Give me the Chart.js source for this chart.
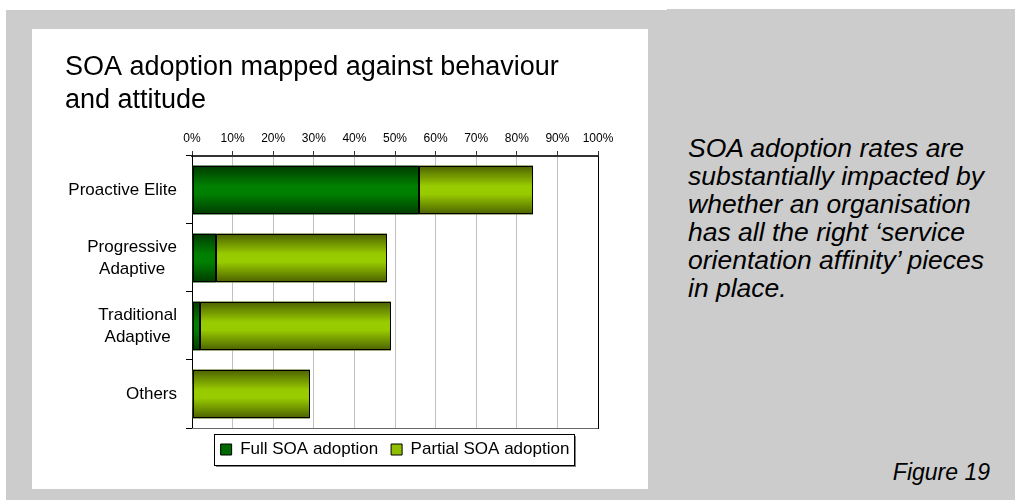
<!DOCTYPE html>
<html>
<head>
<meta charset="utf-8">
<title>SOA adoption mapped against behaviour and attitude</title>
<script src="https://cdn.jsdelivr.net/npm/chart.js@4/dist/chart.umd.min.js"></script>
<style>
  html, body { margin: 0; padding: 0; background: #fff; }
  body { width: 1015px; height: 500px; position: relative; overflow: hidden;
         font-family: "Liberation Sans", Arial, sans-serif; color: #000; }
  .grey { position: absolute; background: #cccccc; }
  #panel { position: absolute; left: 32px; top: 29px; width: 616px; height: 460px; background: #fff; }
  #note { position: absolute; left: 688px; top: 134px; font-style: italic; font-size: 26.5px;
          line-height: 28px; white-space: nowrap; }
  #fig { position: absolute; right: 25px; top: 461px; font-style: italic; font-size: 23px;
         line-height: 23px; white-space: nowrap; }
</style>
</head>
<body>
<div class="grey" style="left:6px; top:10px; width:1009px; height:490px;"></div>
<div class="grey" style="left:667px; top:9px; width:348px; height:2px;"></div>
<div id="panel"><canvas id="adoptionChart"></canvas></div>
<div id="note">SOA adoption rates are<br>substantially impacted by<br>whether an organisation<br>has all the right ‘service<br>orientation affinity’ pieces<br>in place.</div>
<div id="fig">Figure 19</div>

<script>
// Segments de comportement / attitude (une ligne par élément de tableau)
const categories = [
    ['Proactive Elite'],
    ['Progressive', 'Adaptive'],
    ['Traditional', 'Adaptive'],
    ['Others']
];
// Part des organisations (%)
const fullAdoption = [56, 6, 2, 0];
const partialAdoption = [28, 42, 47, 29];
const seriesNames = ['Full SOA adoption', 'Partial SOA adoption'];
const titleLines = ['SOA adoption mapped against behaviour', 'and attitude'];
const tickSuffix = '%';

const FONT = '"Liberation Sans", Arial, sans-serif';
const BAR_SHARE = 0.72;

Chart.defaults.font.family = FONT;
Chart.defaults.color = '#000';

// Dégradé vertical façon "cylindre" : sombre sur les bords, clair au milieu
function shaded(dark, light) {
    return function (ctx) {
        const chart = ctx.chart;
        const y = chart.scales.y;
        if (ctx.dataIndex === undefined || !y || !chart.chartArea) return light;
        const c = y.getPixelForValue(ctx.dataIndex);
        const half = (y.height / categories.length) * BAR_SHARE / 2;
        const g = chart.ctx.createLinearGradient(0, c - half, 0, c + half);
        g.addColorStop(0, dark);
        g.addColorStop(0.42, light);
        g.addColorStop(0.58, light);
        g.addColorStop(1, dark);
        return g;
    };
}

// Contour net des barres (calé sur les pixels pour éviter un liseré clair entre segments)
const barOutlines = {
    id: 'barOutlines',
    afterDatasetsDraw(chart) {
        const { ctx } = chart;
        ctx.save();
        ctx.strokeStyle = '#000';
        ctx.lineWidth = 1;
        chart.data.datasets.forEach((ds, di) => {
            chart.getDatasetMeta(di).data.forEach(bar => {
                const { x, y, base, height } = bar.getProps(['x', 'y', 'base', 'height'], true);
                const l = Math.round(Math.min(x, base));
                const r = Math.round(Math.max(x, base));
                if (r - l < 1) return;
                const t = Math.round(y - height / 2);
                const b = Math.round(y + height / 2);
                ctx.strokeRect(l + 0.5, t + 0.5, r - l - 1, b - t - 1);
            });
        });
        ctx.restore();
    }
};

// Libellés des catégories : bloc aligné à droite, lignes centrées dans le bloc
const categoryLabels = {
    id: 'categoryLabels',
    afterDraw(chart) {
        const { ctx } = chart;
        const y = chart.scales.y;
        ctx.save();
        ctx.font = '17px ' + FONT;
        ctx.fillStyle = '#000';
        ctx.textBaseline = 'middle';
        ctx.textAlign = 'center';
        const right = y.right - 15;
        chart.data.labels.forEach((lines, i) => {
            const w = Math.max(...lines.map(l => ctx.measureText(l).width));
            const cx = right - w / 2;
            const cy = y.getPixelForValue(i);
            lines.forEach((line, j) => {
                ctx.fillText(line, cx, cy + (j - (lines.length - 1) / 2) * 22);
            });
        });
        ctx.restore();
    }
};

// Bords droit et bas de la zone de tracé, cadre ombré de la légende
const frames = {
    id: 'frames',
    afterDraw(chart) {
        const { ctx, chartArea: a } = chart;
        ctx.save();
        ctx.lineWidth = 1;
        ctx.strokeStyle = '#666';
        ctx.beginPath();
        ctx.moveTo(a.left, a.bottom + 0.5);
        ctx.lineTo(a.right, a.bottom + 0.5);
        ctx.stroke();
        ctx.strokeStyle = '#000';
        ctx.beginPath();
        ctx.moveTo(Math.round(a.right) + 0.5, a.top);
        ctx.lineTo(Math.round(a.right) + 0.5, a.bottom + 1);
        ctx.stroke();

        const boxes = chart.legend && chart.legend.legendHitBoxes;
        if (boxes && boxes.length) {
            const left = Math.round(Math.min(...boxes.map(b => b.left)) - 7);
            const right = Math.round(Math.max(...boxes.map(b => b.left + b.width)) + 5);
            const mid = boxes[0].top + boxes[0].height / 2;
            const top = Math.round(mid - 15.5);
            const bottom = Math.round(mid + 15.5);
            ctx.fillStyle = '#808080';
            ctx.fillRect(left + 2, bottom, right - left, 2);
            ctx.fillRect(right, top + 2, 2, bottom - top);
            ctx.strokeStyle = '#000';
            ctx.strokeRect(left + 0.5, top + 0.5, right - left, bottom - top);
        }
        ctx.restore();
    }
};

const config = {
    type: 'bar',
    data: {
        labels: categories,
        datasets: [{
            label: seriesNames[0],
            data: fullAdoption,
            backgroundColor: shaded('#003a00', '#008000'),
            borderWidth: 0,
            categoryPercentage: BAR_SHARE,
            barPercentage: 1
        }, {
            label: seriesNames[1],
            data: partialAdoption,
            backgroundColor: shaded('#4a5f00', '#99cc00'),
            borderWidth: 0,
            categoryPercentage: BAR_SHARE,
            barPercentage: 1
        }]
    },
    options: {
        indexAxis: 'y',
        responsive: true,
        maintainAspectRatio: false,
        animation: false,
        layout: { padding: { top: 0, left: 33, right: 50, bottom: 21 } },
        scales: {
            x: {
                position: 'top',
                stacked: true,
                min: 0,
                max: 100,
                ticks: {
                    stepSize: 10,
                    padding: 5,
                    font: { size: 12 },
                    callback: v => v + tickSuffix
                },
                grid: { color: '#c0c0c0', tickColor: '#333', tickLength: 5 },
                border: { color: '#333', width: 2 },
                afterFit(scale) { scale.height = 39; }
            },
            y: {
                stacked: true,
                ticks: { display: false },
                grid: { drawOnChartArea: false, tickColor: '#000', tickLength: 6 },
                border: { color: '#000', width: 1 },
                afterFit(scale) { scale.width = 127; }
            }
        },
        plugins: {
            title: {
                display: true,
                text: titleLines,
                align: 'start',
                color: '#000',
                font: { size: 27, weight: 'normal', lineHeight: 1.222 },
                padding: { top: 22, bottom: 0 }
            },
            legend: {
                position: 'bottom',
                fullSize: false,
                labels: {
                    boxWidth: 11,
                    boxHeight: 11,
                    padding: 13,
                    color: '#000',
                    font: { size: 17 },
                    generateLabels(chart) {
                        const items = Chart.defaults.plugins.legend.labels.generateLabels(chart);
                        const solid = ['#006a00', '#8fbf00'];
                        items.forEach((it, i) => {
                            it.fillStyle = solid[i];
                            it.strokeStyle = '#000';
                            it.lineWidth = 1;
                        });
                        return items;
                    }
                }
            },
            tooltip: { enabled: false }
        }
    },
    plugins: [barOutlines, categoryLabels, frames]
};

const adoptionChart = new Chart(document.getElementById('adoptionChart'), config);
</script>
</body>
</html>
